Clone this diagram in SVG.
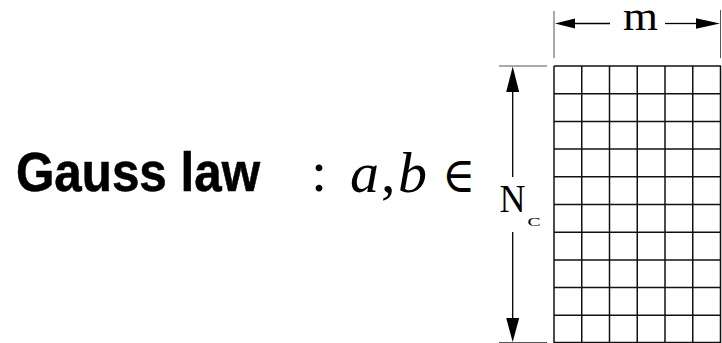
<svg xmlns="http://www.w3.org/2000/svg" width="722" height="343" viewBox="0 0 722 343">
<style>
.ln{stroke:#000;stroke-width:1.3;fill:none}
.tick{stroke:#555;stroke-width:1;fill:none}
.grid line{stroke:#111;stroke-width:1.5}
.serif{font-family:"Liberation Serif","Times New Roman",serif;fill:#000}
.ah{fill:#000}
</style>
<rect width="722" height="343" fill="#fff"/>
<g id="title">
<text x="16" y="191" font-family="Liberation Sans, Arial, sans-serif" font-weight="bold" font-size="55" stroke="#000" stroke-width="0.6" textLength="244" lengthAdjust="spacingAndGlyphs">Gauss law</text>
</g>
<g id="formula">
<text class="serif" x="319" y="191" font-size="58" text-anchor="middle">:</text>
<text class="serif" x="350" y="191.5" font-size="58" font-style="italic">a</text>
<text class="serif" x="381" y="191.5" font-size="58">,</text>
<text class="serif" x="398" y="191.5" font-size="58" font-style="italic">b</text>
<text x="442" y="191.5" font-size="50" font-family="DejaVu Serif, serif" textLength="33" lengthAdjust="spacingAndGlyphs">∈</text>
</g>
<g id="grid" class="grid">
<line x1="554" y1="66" x2="554" y2="343"/>
<line x1="581.75" y1="66" x2="581.75" y2="343"/>
<line x1="609.5" y1="66" x2="609.5" y2="343"/>
<line x1="637.25" y1="66" x2="637.25" y2="343"/>
<line x1="665" y1="66" x2="665" y2="343"/>
<line x1="692.75" y1="66" x2="692.75" y2="343"/>
<line x1="720.5" y1="66" x2="720.5" y2="343"/>
<line x1="554" y1="66" x2="721" y2="66"/>
<line x1="554" y1="93.7" x2="721" y2="93.7"/>
<line x1="554" y1="121.4" x2="721" y2="121.4"/>
<line x1="554" y1="149.1" x2="721" y2="149.1"/>
<line x1="554" y1="176.8" x2="721" y2="176.8"/>
<line x1="554" y1="204.5" x2="721" y2="204.5"/>
<line x1="554" y1="232.2" x2="721" y2="232.2"/>
<line x1="554" y1="259.9" x2="721" y2="259.9"/>
<line x1="554" y1="287.6" x2="721" y2="287.6"/>
<line x1="554" y1="315.3" x2="721" y2="315.3"/>
<line x1="554" y1="342.5" x2="721" y2="342.5"/>
</g>
<g id="m-dimension">
<line class="tick" x1="554" y1="11" x2="554" y2="58"/>
<line class="tick" x1="720.5" y1="10" x2="720.5" y2="58"/>
<line class="ln" x1="574" y1="23.5" x2="610" y2="23.5"/>
<polygon class="ah" points="555,23.5 575,18.5 575,28.5"/>
<line class="ln" x1="665" y1="23.5" x2="697" y2="23.5"/>
<polygon class="ah" points="720,23.5 696,18.3 696,28.7"/>
<text class="serif" x="623" y="30" font-size="40" textLength="35" lengthAdjust="spacingAndGlyphs">m</text>
</g>
<g id="nc-dimension">
<line class="tick" x1="499" y1="66" x2="547" y2="66"/>
<line class="tick" x1="499" y1="342.5" x2="547" y2="342.5"/>
<line class="ln" x1="512.7" y1="90" x2="512.7" y2="177"/>
<polygon class="ah" points="512.7,66.5 506.2,92 519.2,92"/>
<line class="ln" x1="512.7" y1="232" x2="512.7" y2="320"/>
<polygon class="ah" points="512.7,342 506.2,318 519.2,318"/>
<text class="serif" x="499.5" y="211.7" font-size="40" textLength="26" lengthAdjust="spacingAndGlyphs">N</text>
<text class="serif" x="527.5" y="225.5" font-size="13" textLength="13" lengthAdjust="spacingAndGlyphs">C</text>
</g>
</svg>
